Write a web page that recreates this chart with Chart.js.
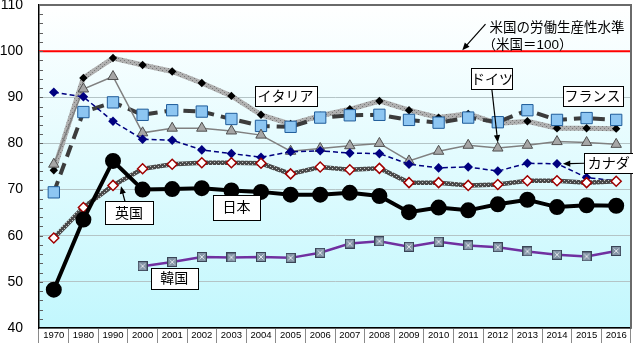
<!DOCTYPE html>
<html lang="ja">
<head>
<meta charset="utf-8">
<script src="https://cdn.jsdelivr.net/npm/chart.js@4/dist/chart.umd.min.js"></script>
<style>
  body { margin: 0; background: #fff; }
  #wrap { width: 633px; height: 343px; }
</style>
</head>
<body>
<div id="wrap"><canvas id="myChart" width="633" height="343"></canvas></div>
<script>
// データ（米国＝100）
var years = ['1970', '1980', '1990', '2000', '2001', '2002', '2003', '2004', '2005', '2006',
  '2007', '2008', '2009', '2010', '2011', '2012', '2013', '2014', '2015', '2016'];
var japan = [48.3, 63.5, 76.2, 70.0, 70.1, 70.3, 69.8, 69.5, 68.9, 68.9, 69.3, 68.6, 65.1, 66.1, 65.5, 66.8, 67.8, 66.2, 66.6, 66.5];
var uk = [59.5, 66.1, 70.9, 74.5, 75.5, 75.8, 75.8, 75.7, 73.4, 74.9, 74.3, 74.6, 71.5, 71.5, 70.9, 71.1, 71.9, 71.9, 71.5, 71.8];
var italy = [74.2, 94.2, 98.5, 97.0, 95.6, 93.1, 90.3, 86.2, 84.2, 86.0, 87.4, 89.2, 87.2, 85.6, 86.4, 84.3, 84.8, 83.3, 83.3, 83.2];
var france = [69.4, 86.8, 88.9, 86.2, 87.2, 86.9, 85.3, 83.8, 83.6, 85.6, 86.1, 86.2, 85.1, 84.5, 85.6, 84.6, 87.2, 85.1, 85.5, 85.1];
var germany = [75.5, 91.8, 94.5, 82.3, 83.3, 83.3, 82.7, 81.8, 78.3, 78.9, 79.5, 80.0, 76.2, 78.3, 79.6, 79.0, 79.6, 80.4, 80.2, 79.8];
var canada = [91.1, 90.1, 84.8, 80.9, 80.7, 78.6, 77.8, 77.0, 78.2, 78.4, 77.9, 77.8, 75.5, 74.7, 74.9, 74.0, 75.7, 75.6, 72.6, 71.9];
var korea = [null, null, null, 53.4, 54.3, 55.4, 55.3, 55.4, 55.2, 56.3, 58.3, 58.8, 57.6, 58.7, 57.9, 57.5, 56.6, 55.9, 55.5, 56.7];
var usLevel = 100;

// ラベル位置（カテゴリ番号, 値）
var labels = [
  { text: 'イタリア', i: 7.83, v: 90.3, w: 62, h: 20 },
  { text: 'ドイツ', i: 14.8, v: 94.0, w: 41, h: 21, arrowTo: { i: 15, v: 80.2 }, from: 'bottom' },
  { text: 'フランス', i: 18.2, v: 90.3, w: 60, h: 20 },
  { text: 'カナダ', i: 18.75, v: 75.7, w: 49, h: 20, arrowTo: { i: 17.2, v: 75.6 }, from: 'left' },
  { text: '英国', i: 2.54, v: 65.0, w: 48, h: 23, arrowTo: { i: 2.27, v: 70.7 }, from: 'top' },
  { text: '日本', i: 6.17, v: 66.1, w: 47, h: 25 },
  { text: '韓国', i: 4.07, v: 50.7, w: 47, h: 21 }
];

var FONT = "'Liberation Sans', 'Noto Sans CJK JP', sans-serif";

// 線の模様
function makePattern(base, dot) {
  var c = document.createElement('canvas');
  c.width = 4; c.height = 4;
  var g = c.getContext('2d');
  g.fillStyle = base; g.fillRect(0, 0, 4, 4);
  g.fillStyle = dot; g.fillRect(0, 0, 1, 1); g.fillRect(2, 2, 1, 1);
  return g.createPattern(c, 'repeat');
}
var ukLine = makePattern('#4a4a4a', '#c8c8c8');
var italyLine = makePattern('#b0b0b0', '#7a7a7a');

// 韓国のマーカー（×入りの四角）
var koreaMark = document.createElement('canvas');
koreaMark.width = 10; koreaMark.height = 10;
(function () {
  var g = koreaMark.getContext('2d');
  g.fillStyle = '#8494a6'; g.fillRect(0.5, 0.5, 9, 9);
  g.strokeStyle = '#3a4456'; g.lineWidth = 1; g.strokeRect(0.5, 0.5, 9, 9);
  g.beginPath(); g.moveTo(2.5, 2.5); g.lineTo(7.5, 7.5); g.moveTo(7.5, 2.5); g.lineTo(2.5, 7.5);
  g.strokeStyle = '#e0e4ea'; g.stroke();
})();

function arrow(ctx, x1, y1, x2, y2, head) {
  var a = Math.atan2(y2 - y1, x2 - x1);
  ctx.beginPath(); ctx.moveTo(x1, y1);
  ctx.lineTo(x2 - Math.cos(a) * head * 0.8, y2 - Math.sin(a) * head * 0.8);
  ctx.stroke();
  ctx.beginPath();
  ctx.moveTo(x2, y2);
  ctx.lineTo(x2 - head * Math.cos(a - 0.4), y2 - head * Math.sin(a - 0.4));
  ctx.lineTo(x2 - head * Math.cos(a + 0.4), y2 - head * Math.sin(a + 0.4));
  ctx.closePath(); ctx.fill();
}

var decorPlugin = {
  id: 'decor',
  beforeDraw: function (chart) {
    var ctx = chart.ctx, a = chart.chartArea;
    var grad = ctx.createLinearGradient(0, a.top, 0, a.bottom);
    grad.addColorStop(0, '#ffffff');
    grad.addColorStop(1, '#c2f7fd');
    ctx.save();
    ctx.fillStyle = grad;
    ctx.fillRect(a.left, a.top, a.right - a.left, a.bottom - a.top);
    ctx.restore();
  },
  beforeDatasetsDraw: function (chart) {
    var ctx = chart.ctx, a = chart.chartArea, y = chart.scales.y;
    ctx.save();
    // 米国の水準
    var py = y.getPixelForValue(usLevel);
    ctx.strokeStyle = '#ff0000'; ctx.lineWidth = 2;
    ctx.beginPath(); ctx.moveTo(a.left, py); ctx.lineTo(a.right, py); ctx.stroke();
    // 副目盛
    ctx.strokeStyle = '#606060'; ctx.lineWidth = 1;
    for (var v = y.min; v <= y.max; v += 2) {
      var ty = Math.round(y.getPixelForValue(v)) + 0.5;
      ctx.beginPath(); ctx.moveTo(a.left, ty); ctx.lineTo(a.left + 4, ty); ctx.stroke();
    }
    ctx.restore();
  },
  afterDatasetsDraw: function (chart) {
    var ctx = chart.ctx, a = chart.chartArea, x = chart.scales.x, y = chart.scales.y;
    ctx.save();
    // 枠
    ctx.strokeStyle = '#6a6a6a'; ctx.lineWidth = 2;
    ctx.beginPath(); ctx.moveTo(a.left, a.top); ctx.lineTo(a.right, a.top); ctx.lineTo(a.right, a.bottom); ctx.stroke();

    // 米国の注記
    ctx.fillStyle = '#000'; ctx.strokeStyle = '#000'; ctx.lineWidth = 1.2;
    ctx.font = '13.5px ' + FONT;
    ctx.textBaseline = 'middle'; ctx.textAlign = 'left';
    var ux = x.getPixelForValue(14.72), uy = y.getPixelForValue(105.0);
    ctx.fillText('米国の労働生産性水準', ux, uy);
    ctx.fillText('（米国＝100）', ux - 7, uy + 17);
    arrow(ctx, ux - 4, uy - 4, x.getPixelForValue(13.8), y.getPixelForValue(usLevel) - 1, 8);

    // ラベル
    ctx.font = '14px ' + FONT;
    ctx.textAlign = 'center';
    labels.forEach(function (l) {
      var cx = x.getPixelForValue(l.i), cy = y.getPixelForValue(l.v);
      var bx = Math.round(cx - l.w / 2) + 0.5, by = Math.round(cy - l.h / 2) + 0.5;
      if (l.arrowTo) {
        var sx = cx, sy = cy;
        if (l.from === 'bottom') sy = by + l.h;
        if (l.from === 'top') { sy = by; sx = cx - 4; }
        if (l.from === 'left') sx = bx;
        ctx.lineWidth = 1.2;
        arrow(ctx, sx, sy, x.getPixelForValue(l.arrowTo.i), y.getPixelForValue(l.arrowTo.v), 8);
      }
      ctx.fillStyle = '#fff';
      ctx.fillRect(bx, by, l.w, l.h);
      ctx.lineWidth = 1; ctx.strokeStyle = '#000';
      ctx.strokeRect(bx, by, l.w, l.h);
      ctx.fillStyle = '#000';
      ctx.fillText(l.text, cx, cy + 1);
    });
    ctx.restore();
  }
};

var ctx = document.getElementById('myChart').getContext('2d');

var myChart = new Chart(ctx, {
  type: 'line',
  data: {
    labels: years,
    datasets: [
      {
        label: '日本', data: japan,
        borderColor: '#000', borderWidth: 4,
        pointStyle: 'circle', pointRadius: 6, pointBackgroundColor: '#000', pointBorderColor: '#000'
      },
      {
        label: '英国', data: uk,
        borderColor: ukLine, borderWidth: 4.5,
        pointStyle: 'rectRot', pointRadius: 5, pointBackgroundColor: '#fff', pointBorderColor: '#a00000', pointBorderWidth: 1.5
      },
      {
        label: '韓国', data: korea,
        borderColor: '#7030a0', borderWidth: 2.5,
        pointStyle: koreaMark
      },
      {
        label: 'カナダ', data: canada,
        borderColor: '#000080', borderWidth: 1.5, borderDash: [5, 3],
        pointStyle: 'rectRot', pointRadius: 4.8, pointBorderWidth: 0, pointBackgroundColor: '#000080', pointBorderColor: '#000080'
      },
      {
        label: 'ドイツ', data: germany,
        borderColor: '#808080', borderWidth: 1.5,
        pointStyle: 'triangle', pointRadius: 6, pointBackgroundColor: '#a6a6a6', pointBorderColor: '#505050', pointBorderWidth: 1
      },
      {
        label: 'フランス', data: france,
        borderColor: '#3c3c3c', borderWidth: 4, borderDash: [12, 7],
        pointStyle: 'rect', pointRadius: 8, pointBackgroundColor: '#8dc6f2', pointBorderColor: '#1f5c9a', pointBorderWidth: 1
      },
      {
        label: 'イタリア', data: italy,
        borderColor: italyLine, borderWidth: 5,
        pointStyle: 'rectRot', pointRadius: 4.2, pointBorderWidth: 0, pointBackgroundColor: '#000', pointBorderColor: '#000'
      }
    ]
  },
  options: {
    responsive: false,
    animation: false,
    spanGaps: false,
    layout: { autoPadding: false, padding: { top: 5, right: 2, left: 0, bottom: 0 } },
    elements: { line: { tension: 0, fill: false } },
    plugins: {
      legend: { display: false },
      tooltip: { enabled: false }
    },
    scales: {
      x: {
        offset: true,
        grid: { offset: true, drawOnChartArea: false, drawTicks: true, tickLength: 15, color: '#8a8a8a' },
        border: { color: '#000', width: 1.5 },
        ticks: { font: { size: 9.5, family: FONT }, color: '#000', padding: -13, maxRotation: 0, autoSkip: false },
        afterFit: function (scale) {
          scale.height = 15;
          scale.paddingLeft = 0; scale.paddingRight = 0;
        }
      },
      y: {
        min: 40, max: 110,
        grid: { color: '#b4c4c6', drawTicks: false },
        border: { color: '#000', width: 1.5 },
        ticks: { stepSize: 10, font: { size: 14, family: FONT }, color: '#000', padding: 16 },
        afterFit: function (scale) {
          scale.width = 39;
          scale.paddingTop = 0; scale.paddingBottom = 0;
        }
      }
    }
  },
  plugins: [decorPlugin]
});
</script>
</body>
</html>
